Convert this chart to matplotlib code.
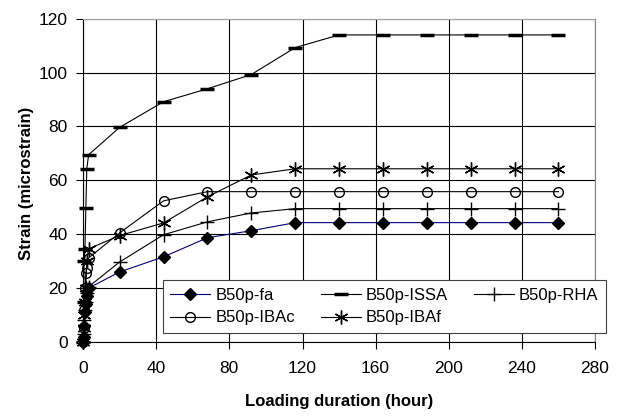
import matplotlib
matplotlib.use("Agg")
import matplotlib.pyplot as plt

plt.rcParams['font.family'] = ['Liberation Sans', 'DejaVu Sans']

hours = [0, 0.25, 0.5, 1, 1.5, 2, 3, 20, 44, 68, 92, 116, 140, 164, 188, 212, 236, 260]

fa = [0, 2, 6, 11, 14, 17, 20, 26.0, 31.6, 38.7, 41.3, 44.3, 44.3, 44.3, 44.3, 44.3, 44.3, 44.3]
issa = [0, 15, 30, 34.6, 49.8, 64.3, 69.5, 79.7, 89.2, 94.0, 99.3, 109.3, 114, 114, 114, 114, 114, 114]
rha = [0, 3, 8, 12, 15, 18, 20.5, 29.7, 39.8, 44.6, 47.9, 49.5, 49.5, 49.5, 49.5, 49.5, 49.5, 49.5]
ibac = [0, 5, 12, 20, 25.7, 27.5, 31.2, 40.5, 52.4, 55.8, 55.8, 55.8, 55.8, 55.8, 55.8, 55.8, 55.8, 55.8]
ibaf = [0, 5, 10, 15, 20, 30, 34.6, 39.5, 44.2, 53.9, 62.0, 64.3, 64.3, 64.3, 64.3, 64.3, 64.3, 64.3]

fig = plt.figure(figsize=(6.25, 4.17), dpi=100)
ax = fig.add_axes([0.133, 0.18, 0.819, 0.775])

l_fa, = ax.plot(hours, fa, color='#000080', lw=0.8, marker='D', ms=6.5,
                mfc='black', mec='black', label="B50p-fa", clip_on=False, zorder=3)
l_issa, = ax.plot(hours, issa, color='black', lw=0.8, marker='_', ms=10, mew=2.5,
                  label="B50p-ISSA", clip_on=False, zorder=3)
l_rha, = ax.plot(hours, rha, color='black', lw=0.8, marker='+', ms=10, mew=1,
                 label="B50p-RHA", clip_on=False, zorder=3)
l_ibac, = ax.plot(hours, ibac, color='black', lw=0.8, marker='o', ms=7, mfc='none',
                  mew=1, label="B50p-IBAc", clip_on=False, zorder=3)
l_ibaf, = ax.plot(hours, ibaf, color='black', lw=0.8, marker=(6, 2, 0), ms=10, mew=1,
                  label="B50p-IBAf", clip_on=False, zorder=3)

ax.set_xlim(0, 280)
ax.set_ylim(0, 120)
ax.set_xticks(range(0, 281, 40))
ax.set_yticks(range(0, 121, 20))
ax.grid(True, color='black', lw=0.8)
ax.set_axisbelow(True)
ax.tick_params(direction='out', length=5, width=0.8, labelsize=12.5, color='black')
ax.tick_params(axis='x', pad=9)
ax.tick_params(axis='y', pad=6)
ax.spines['top'].set_color('#a0a0a0')
ax.spines['right'].set_color('#808080')
for s in ['left', 'bottom']:
    ax.spines[s].set_color('black')

ax.set_xlabel("Loading duration (hour)", fontsize=12, fontweight='bold')
ax.set_ylabel("Strain (microstrain)", fontsize=12, fontweight='bold')
ax.xaxis.set_label_coords(0.5, -0.183)
ax.xaxis.label.set_va('center')
ax.yaxis.set_label_coords(-0.111, 0.49)
ax.yaxis.label.set_va('center')

handles = [l_fa, l_ibac, l_issa, l_ibaf, l_rha]
leg = ax.legend(handles=handles, labels=[h.get_label() for h in handles], ncol=3,
                loc='lower left', bbox_to_anchor=(0.156, 0.028, 0.865, 0.201),
                mode='expand', fontsize=12, fancybox=False, framealpha=1,
                edgecolor='#404040', handlelength=2.4, borderaxespad=0,
                handletextpad=0.3, columnspacing=0.6, borderpad=0.45,
                labelspacing=0.45)
leg.get_frame().set_linewidth(0.8)
leg.set_zorder(5)

fig.savefig("out.png", dpi=100)
